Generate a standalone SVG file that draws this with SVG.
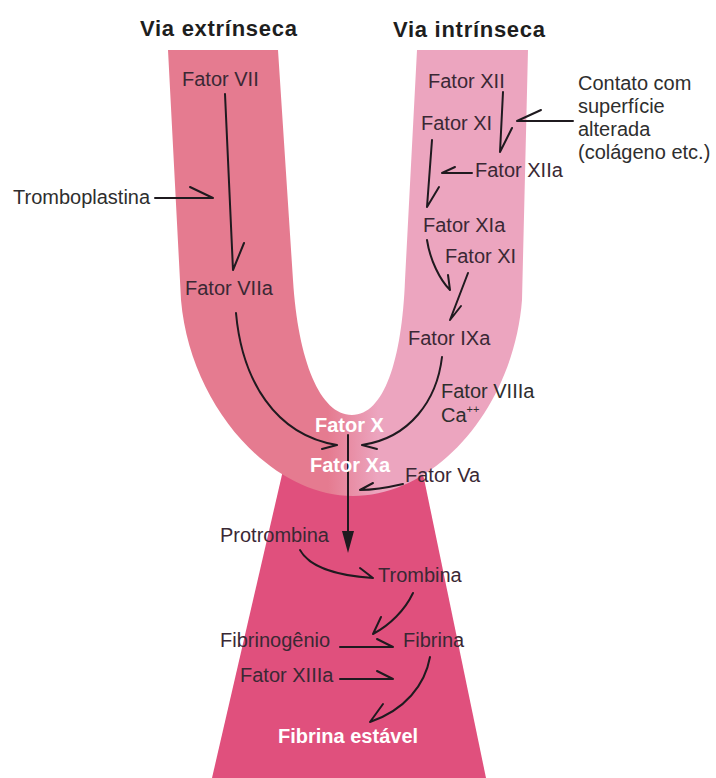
<svg xmlns="http://www.w3.org/2000/svg" width="716" height="778" viewBox="0 0 716 778">
<defs>
<linearGradient id="ug" gradientUnits="userSpaceOnUse" x1="328" y1="0" x2="378" y2="0">
<stop offset="0" stop-color="#E57B90"/>
<stop offset="1" stop-color="#ECA5BF"/>
</linearGradient>
<style>
text{font-family:"Liberation Sans",Arial,sans-serif;font-size:20px;fill:#3a2834}
.ext{fill:#2e2e2e}
.title{font-weight:bold;font-size:22px;fill:#1e1e1e}
.w{fill:#ffffff;font-weight:bold}
.c{fill:none;stroke:#1f1a1f;stroke-width:2;stroke-linecap:round;stroke-linejoin:round}
</style>
</defs>
<rect width="716" height="778" fill="#ffffff"/>
<g id="shapes">
<path d="M290,440 L416,440 L486,778 L212,778 Z" fill="#E0507D"/>
<path d="M168,50 L278,50 L293,280 C298,360 320,415 352,415 C384,415 402,360 405,280 L417,50 L528,50 L522,300 C514,405 438,496 353,496 C270,496 190,405 181,300 Z" fill="url(#ug)"/>
</g>
<g id="connectors">
<path class="c" d="M225,94 L233,270 M244,243 L233,270"/>
<path class="c" d="M155,198 L213,198 M190,187 L213,198"/>
<path class="c" d="M236,313 C242,380 275,435 337,445 M322,449 L337,445"/>
<path class="c" d="M442,357 C437,400 410,438 362,445 M377,449 L362,445"/>
<path class="c" d="M403,484 C390,487 375,490 360,490 M373,483 L360,490"/>
<path class="c" d="M348,435 L348,535"/>
<path d="M342,531 L354,531 L348,553 Z" fill="#1f1a1f"/>
<path class="c" stroke-width="2.5" d="M503,92 L500,152 M512,128 L500,152"/>
<path class="c" d="M573,121 L517,121 M541,110 L517,121"/>
<path class="c" d="M432,140 L427,207 M439,187 L427,207"/>
<path class="c" d="M472,173 L442,173 M455,167 L442,173"/>
<path class="c" d="M427,240 C430,260 440,280 450,290 M448,275 L450,290"/>
<path class="c" d="M468,273 L450,320 M461,306 L450,320"/>
<path class="c" d="M300,550 C310,568 340,576 373,578 M360,568 L373,578"/>
<path class="c" d="M413,593 C405,610 390,625 373,634 M381,617 L373,634"/>
<path class="c" d="M340,647 L393,647 M377,639 L393,647"/>
<path class="c" d="M340,679 L393,679 M377,671 L393,679"/>
<path class="c" d="M430,657 C425,685 405,710 370,722 M383,704 L370,722"/>
</g>
<g id="title-extrinseca"><text class="title" x="140" y="36" textLength="157" lengthAdjust="spacing">Via extrínseca</text></g>
<g id="title-intrinseca"><text class="title" x="393" y="37" textLength="152" lengthAdjust="spacing">Via intrínseca</text></g>
<g id="fator-vii"><text x="182" y="86" font-size="23">Fator VII</text></g>
<g id="tromboplastina"><text class="ext" x="13" y="204">Tromboplastina</text></g>
<g id="fator-viia"><text x="185" y="295">Fator VIIa</text></g>
<g id="fator-xii"><text x="428" y="88">Fator XII</text></g>
<g id="contato"><text class="ext" x="578" y="90">Contato com</text><text class="ext" x="578" y="113">superfície</text><text class="ext" x="578" y="136">alterada</text><text class="ext" x="578" y="159">(colágeno etc.)</text></g>
<g id="fator-xi"><text x="421" y="130">Fator XI</text></g>
<g id="fator-xiia"><text x="475" y="177">Fator XIIa</text></g>
<g id="fator-xia"><text x="423" y="232">Fator XIa</text></g>
<g id="fator-xi-2"><text x="445" y="263">Fator XI</text></g>
<g id="fator-ixa"><text x="408" y="345">Fator IXa</text></g>
<g id="fator-viiia"><text class="ext" x="441" y="398">Fator VIIIa</text><text class="ext" x="441" y="422">Ca<tspan font-size="11" dy="-9">++</tspan></text></g>
<g id="fator-x"><text class="w" x="315" y="432">Fator X</text></g>
<g id="fator-xa"><text class="w" x="310" y="472">Fator Xa</text></g>
<g id="fator-va"><text x="405" y="482">Fator Va</text></g>
<g id="protrombina"><text x="220" y="542">Protrombina</text></g>
<g id="trombina"><text x="378" y="582">Trombina</text></g>
<g id="fibrinogenio"><text x="220" y="647">Fibrinogênio</text></g>
<g id="fibrina"><text x="403" y="647">Fibrina</text></g>
<g id="fator-xiiia"><text x="240" y="682">Fator XIIIa</text></g>
<g id="fibrina-estavel"><text class="w" x="278" y="743">Fibrina estável</text></g>
</svg>
